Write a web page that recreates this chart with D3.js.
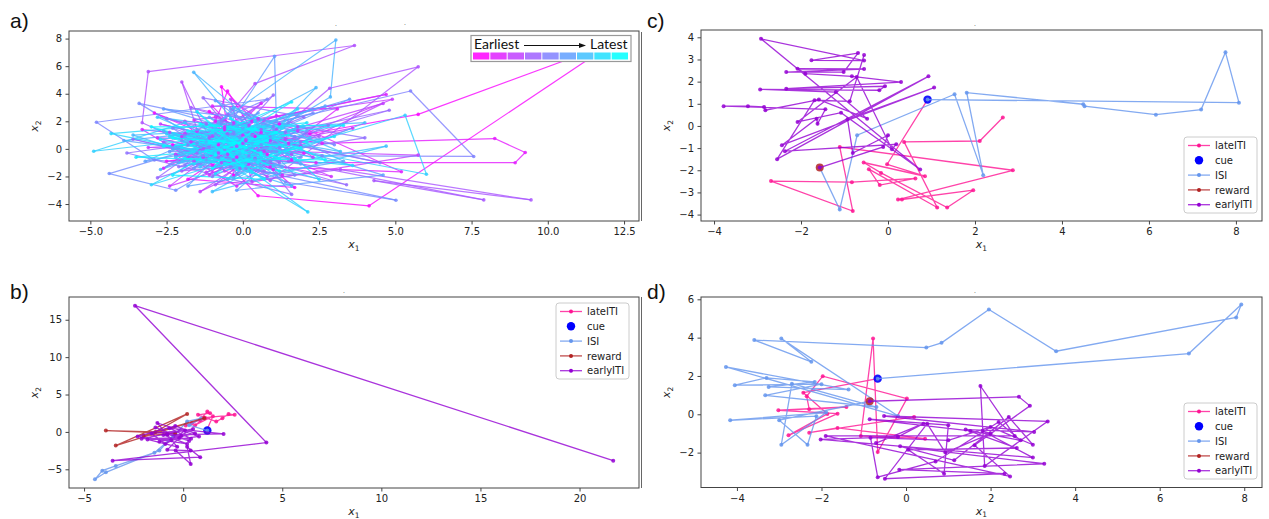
<!DOCTYPE html>
<html><head><meta charset="utf-8">
<script src="https://cdn.jsdelivr.net/npm/d3@7"></script>
<style>body{margin:0;background:#fff}svg{display:block}</style>
</head><body>
<svg id="fig" width="1269" height="519"></svg>
<script>
// ---------------- data ----------------
// a) latent trajectory [x1, x2] in time order (earliest -> latest)
const trajA = [
 [0.4,0.9],[-1.1,2.7],[1.6,-0.8],[-0.7,4.5],[-0.3,-1.9],[-2.3,0.3],[1.2,1.8],[2.2,1.1],[5.75,2.5],[12.14,7.7],
 [4.14,-4.13],[0.5,-3.4],[-1.5,1.3],[-2.9,2.6],[0.8,-0.4],[-0.5,4.2],[-0.9,2.0],[1.7,-2.8],[-1.8,-2.2],[0.1,0.6],
 [-0.8,0.3],[1.0,-1.5],[-1.9,1.1],[0.6,1.2],[-0.2,-0.6],[-2.5,-0.9],[1.5,0.4],[-1.0,-1.2],[0.3,2.0],[-1.4,-0.1],[2.0,-0.3],[-0.6,1.4],
 [2.6,0.4],[8.26,0.75],[9.26,-0.26],[8.93,-1.0],[2.4,-1.0],[-1.3,-0.6],[0.6,3.3],[-2.6,-1.4],[1.1,2.4],[5.2,-1.66],
 [0.9,-1.3],[-1.0,3.1],[3.1,2.9],[-0.2,-2.7],[-3.3,1.4],[1.9,0.2],[-0.6,1.6],[4.7,3.95],[-2.0,0.9],[0.2,-1.1],
 [-1.7,0.5],[0.7,-0.2],[-0.3,1.9],[1.3,-1.9],[-2.2,-0.4],[0.0,1.0],[-1.1,-1.9],[1.8,1.3],[-0.5,-0.4],[-2.8,0.8],[0.9,0.6],[-0.9,2.3],
 [-1.6,2.1],[2.9,-2.0],[-0.8,-0.3],[3.6,1.5],[-2.4,-2.7],[0.5,2.2],[4.9,3.6],[-1.2,-1.7],[1.4,0.7],[-3.1,0.1],
 [5.75,-0.45],[0.3,-2.4],[-0.4,3.6],[2.3,-0.6],[-2.7,1.8],[0.0,0.4],[4.6,3.3],[-1.4,-3.1],[1.8,1.6],[-0.7,-1.0],
 [0.4,-0.7],[-1.6,-0.9],[1.1,1.4],[-0.2,0.2],[-2.4,1.2],[0.8,-2.0],[-1.0,0.9],[1.6,-0.4],[-0.6,-1.6],[-1.9,2.0],[0.2,1.7],[-1.3,0.0],
 [-2.0,4.85],[-1.1,0.8],[0.4,4.73],[3.66,7.5],[-3.1,5.6],[-3.3,1.9],[0.9,-2.3],[5.75,5.95],[2.85,4.4],[-0.9,-2.6],
 [3.2,-1.5],[9.45,-3.7],[4.3,-2.3],[7.9,-3.7],[1.5,-0.9],[-2.2,-0.5],[0.6,1.4],[-1.7,3.0],[2.5,0.9],[-0.3,-0.8],
 [-0.5,1.1],[1.2,-1.0],[-2.0,-1.6],[0.1,0.7],[-1.2,1.8],[1.9,0.5],[-0.8,-0.6],[-2.6,0.5],[0.7,2.1],[-0.1,-1.4],[-1.5,-0.3],[1.4,1.2],
 [4.8,2.8],[-2.8,-2.1],[1.0,3.9],[-0.6,0.0],[3.4,-2.6],[-3.6,0.7],[0.7,-1.6],[-1.3,3.7],[2.0,2.3],[-2.1,-1.3],
 [4.0,0.8],[-0.5,2.5],[1.6,-3.3],[-3.8,-0.3],[2.8,1.7],[-1.0,-2.0],[0.3,1.0],[4.5,-1.0],[-2.5,2.2],[1.2,0.1],
 [0.5,-0.1],[-1.8,0.3],[1.0,1.6],[-0.4,-1.3],[-2.3,1.5],[0.9,-0.9],[-1.1,0.1],[1.7,0.9],[-0.7,2.0],[-1.9,-1.2],[0.2,-0.5],[-0.3,1.2],
 [5.5,4.2],[7.57,-0.55],[2.6,-0.5],[-1.9,1.0],[0.8,3.6],[-4.8,1.93],[-2.9,-0.8],[1.7,-1.9],[-0.4,2.9],[3.0,0.3],
 [-3.4,3.3],[0.1,-1.4],[5.02,-3.72],[1.4,-2.4],[-1.5,0.4],[2.3,2.6],[-4.38,-1.79],[-2.2,-3.0],[0.9,0.9],[-0.7,1.8],
 [-1.3,-0.5],[0.6,0.3],[-0.2,-1.8],[1.5,1.9],[-2.0,0.6],[0.3,-1.1],[-0.9,1.1],[1.9,-0.6],[-1.6,-1.4],[-0.1,0.8],[1.1,-0.2],[-2.4,-0.2],
 [3.5,3.6],[-1.2,-0.8],[1.04,6.71],[1.1,2.0],[-2.6,2.9],[4.6,-1.9],[-0.2,-3.0],[2.1,1.3],[-3.2,-0.9],[0.5,2.6],
 [-1.8,-2.7],[3.3,-0.9],[-0.9,3.5],[1.9,-1.1],[-3.9,0.6],[0.0,1.5],[2.7,3.1],[-2.3,0.0],[1.3,-0.3],[-1.1,2.3],
 [0.2,0.0],[-1.5,1.4],[1.3,-1.3],[-0.6,-0.5],[-2.1,-1.0],[0.8,1.7],[-0.3,-2.1],[1.6,0.6],[-1.2,0.5],[-2.6,1.3],[0.4,-0.8],[-0.8,1.9],
 [3.05,7.9],[2.87,3.77],[0.3,0.4],[-1.61,5.55],[0.8,1.1],[-2.7,-1.5],[2.4,4.44],[-0.5,-2.2],[4.0,1.9],[-3.6,1.0],
 [1.6,-2.7],[-1.3,1.6],[3.2,-0.2],[-0.3,3.0],[-2.0,-0.9],[1.0,-1.2],[4.7,0.2],[-1.0,-3.1],[2.2,0.8],[-2.8,2.3],
 [-0.1,-0.3],[1.4,0.3],[-1.7,1.0],[0.6,-1.4],[-0.9,-0.1],[2.0,1.6],[-2.2,-0.6],[0.1,1.3],[-1.4,-1.3],[1.0,0.9],[-0.5,0.6],[-2.5,1.1],
 [0.6,-0.6],[5.32,2.44],[6.02,-1.84],[-0.6,0.9],[-4.89,-0.17],[-1.9,1.9],[2.13,-4.57],[-0.2,-1.5],[1.8,2.9],[-3.0,-2.6],
 [0.9,0.0],[3.6,-1.2],[-1.4,-0.2],[-4.32,1.11],[0.4,2.0],[2.5,-2.2],[-2.4,0.9],[1.3,1.5],[-0.9,-1.8],[3.0,0.9],
 [1.1,0.2],[-1.0,1.2],[0.3,-1.7],[-2.0,0.1],[1.7,-0.7],[-0.4,1.6],[-1.6,-1.1],[0.7,0.8],[-0.2,-0.3],[2.1,1.9],[-2.7,0.7],[0.5,-1.0],
 [-1.5,2.7],[0.2,-0.9],[-3.5,-0.6],[2.1,0.5],[-0.7,1.3],[1.6,3.4],[-2.3,-1.9],[0.7,-2.2],[-1.1,0.5],[3.3,1.7],
 [-3.0,1.6],[0.0,-0.2],[1.2,-1.6],[-1.9,-0.7],[2.7,-0.8],[-0.4,2.2],[0.8,0.6],[-2.6,0.2],[1.5,1.0],[-0.9,-0.4],
 [-0.3,0.4],[1.2,-0.7],[-1.8,1.3],[0.4,1.5],[-1.0,-1.4],[1.9,0.1],[-2.3,0.8],[0.0,-1.3],[-0.6,0.1],[1.1,1.2],[-1.4,1.8],[0.6,-0.4]
];

// b) one trial, by epoch
const bLateITI = [[0.13,0.85],[0.44,1.16],[0.85,1.6],[1.22,2.72],[1.36,2.5],[0.75,2.28],[1.67,1.38],[1.98,1.83],[2.29,2.4],[2.6,2.28],[1.1,1.9],[0.6,0.9],[1.5,2.1],[1.2,0.3],[1.22,0.18]];
const bCue = [[1.22,0.18]];
const bISI = [[1.22,0.18],[0.3,0.9],[0.9,1.8],[0.2,1.4],[-0.5,-0.6],[-1.45,-2.77],[-3.4,-4.55],[-4.08,-5.18],[-4.45,-6.34],[-3.9,-5.4],[-1.2,-2.5],[-0.4,-0.2]];
const bReward = [[-0.4,-0.2],[-3.9,0.18],[-1.4,0.0],[0.2,2.4],[-3.4,-1.83],[1.06,1.83],[-2.0,-0.5],[-0.8,-0.3]];
const bEarlyITI = [[-0.8,-0.3],[0.3,-1.2],[-1.4,0.6],[-0.2,-0.8],[-2.1,-0.9],[0.5,0.4],[-0.9,-1.6],[-1.6,-0.2],[0.1,0.2],[-0.6,-1.1],[0.8,-0.6],[-1.3,1.2],[-0.3,-2.0],[-1.8,-1.0],[0.4,-0.9],[-0.7,0.5],[2.04,-0.27],[-1.0,-0.4],[0.2,-1.6],[-2.3,-0.6],[-0.4,0.8],[0.6,-0.2],[-1.2,-1.3],[-0.1,-0.5],[-0.8,-2.4],[0.38,-2.5],[-0.38,-2.5],[0.38,-4.29],[0.2,-2.0],[0.86,-3.39],[-3.56,-3.84],[4.2,-1.43],[-2.43,16.88],[21.7,-3.84]];

// c) one trial, by epoch
const cLateITI = [[2.64,0.38],[2.11,-0.68],[0.37,-0.72],[1.13,-3.68],[-0.44,-1.95],[-0.19,-2.67],[0.63,-2.37],[-0.83,-2.54],[-2.69,-2.49],[-0.81,-3.84],[-1.11,-0.95],[2.87,-2.0],[0.23,-3.32],[0.32,-3.32],[1.96,-2.9],[1.36,-3.68],[-0.16,-2.12],[-0.56,-1.65],[0.85,-2.27],[-0.02,-1.73],[0.91,1.19]];
const cCue = [[0.91,1.19]];
const cISI = [[0.91,1.19],[8.07,1.05],[7.76,3.33],[7.2,0.74],[6.16,0.51],[4.52,0.89],[4.49,0.98],[1.81,1.5],[2.19,-2.22],[1.53,1.43],[-0.71,-0.42],[-1.11,-3.77],[-1.57,-1.88]];
const cReward = [[-1.57,-1.88]];
const cEarlyITI = [[-1.57,-1.88],[-0.11,-0.95],[0.0,-0.42],[-0.81,-1.22],[-0.93,0.3],[1.06,1.73],[-2.44,-0.87],[-1.64,0.33],[-1.62,0.1],[-1.44,0.75],[-3.78,0.89],[-3.22,0.89],[-2.85,0.86],[-2.82,0.71],[-1.59,1.19],[-0.48,0.33],[-1.2,1.53],[-2.94,1.65],[-0.2,1.61],[-0.07,1.79],[-2.34,1.68],[0.3,1.98],[-0.83,2.24],[-1.9,2.36],[-2.08,2.58],[-0.55,2.57],[-2.34,2.43],[-1.02,2.43],[-0.69,3.29],[-1.76,2.96],[-0.55,2.95],[-2.92,3.93],[0.74,-1.97],[-1.08,0.6],[-2.08,0.18],[-0.72,2.21],[0.09,-1.05],[0.19,-0.83],[-2.37,-1.14],[0.93,2.24],[-2.55,-1.5],[-1.69,1.16],[-0.88,1.11],[-0.55,3.2]];

// d) one trial, by epoch
const dLateITI = [[0.19,-0.14],[-2.29,-0.96],[-1.62,-0.71],[0.45,-1.27],[-1.07,-1.13],[-0.78,3.95],[-0.67,-1.97],[0.02,0.82],[-1.97,1.99],[-2.35,0.94],[-2.29,0.26],[-1.41,0.38],[-3.02,0.21],[-1.62,0.03],[-2.78,-1.1],[-1.86,0.02],[-2.43,1.13],[-0.67,1.86]];
const dCue = [[-0.67,1.86]];
const dISI = [[-0.67,1.86],[6.69,3.17],[7.93,5.73],[7.81,5.05],[3.55,3.29],[1.96,5.47],[0.84,3.73],[0.48,3.48],[-3.59,3.87],[-2.24,2.74],[-2.95,3.95],[-0.19,-0.09],[-4.26,2.47],[-1.36,1.29],[-3.25,1.43],[-2.16,1.69],[-3.3,1.9],[-4.05,1.52],[-2.0,1.57],[-3.33,0.99],[-0.7,0.38],[-2.7,1.6],[-2.95,-1.59],[-1.89,0.09],[-4.16,-0.31],[-2.12,-0.1],[-2.33,-1.59],[-3.0,-0.31],[-0.86,0.68]];
const dReward = [[-0.86,0.68]];
const dEarlyITI = [[-0.86,0.68],[2.67,0.91],[2.93,0.44],[1.62,-1.62],[2.46,-3.24],[-1.9,-1.13],[2.57,-1.13],[1.76,1.48],[1.86,-2.7],[3.35,-0.37],[-0.52,-0.09],[3.03,-0.92],[1.41,-0.8],[2.62,-1.76],[0.05,-1.85],[0.9,-3.1],[1.0,-0.57],[-0.86,-0.26],[1.52,-0.87],[2.71,-1.36],[2.19,-0.4],[0.7,-2.46],[-0.67,-3.28],[-0.84,-1.22],[1.0,-1.36],[2.0,-0.66],[3.0,-1.59],[2.43,-0.14],[1.14,-2.4],[-0.14,-1.67],[3.27,-2.58],[-0.16,-2.89],[2.33,-3.1],[-0.5,-3.36],[0.5,-0.49],[0.93,-2.0],[2.0,-1.01],[1.81,-0.87],[3.0,-2.26],[-2.02,-1.31],[-0.19,-1.18],[0.41,-0.49],[-0.71,-1.5]];

// tick values
const aXTicks = [-5,-2.5,0,2.5,5,7.5,10,12.5];
const aYTicks = [-4,-2,0,2,4,6,8];
const bXTicks = [-5,0,5,10,15,20];
const bYTicks = [-5,0,5,10,15];
const cXTicks = [-4,-2,0,2,4,6,8];
const cYTicks = [-4,-3,-2,-1,0,1,2,3,4];
const dXTicks = [-4,-2,0,2,4,6,8];
const dYTicks = [-2,0,2,4,6];

const epochNames = ["lateITI","cue","ISI","reward","earlyITI"];
const epochColors = ["#ff1493","#0000ff","#6495ed","#b22222","#9400d3"];

// ---------------- drawing ----------------
const svg = d3.select("#fig");
const TICK_FONT = "DejaVu Sans, sans-serif";

const panels = [
  {id:"a", box:[69,639,31,221], xd:[-5.70,12.99], yd:[-5.23,8.55], xt:aXTicks, yt:aYTicks, xf:d3.format(".1f"), lab:[10,28], speck:[[336,26],[405,25]]},
  {id:"b", box:[69,639,297,488], xd:[-5.76,23.0], yd:[-7.5,18.04], xt:bXTicks, yt:bYTicks, xf:d3.format("d"), lab:[10,299], speck:[[344,293]],
   series:[bLateITI,bCue,bISI,bReward,bEarlyITI], rewardR:2, legend:{x:556,y:303}},
  {id:"c", box:[701,1262,30,221], xd:[-4.30,8.60], yd:[-4.29,4.33], xt:cXTicks, yt:cYTicks, xf:d3.format("d"), lab:[647,28], speck:[[975,26]],
   series:[cLateITI,cCue,cISI,cReward,cEarlyITI], rewardR:4, legend:{x:1184,y:137}},
  {id:"d", box:[701,1262,297,487.5], xd:[-4.85,8.42], yd:[-3.82,6.12], xt:dXTicks, yt:dYTicks, xf:d3.format("d"), lab:[647,299], speck:[[975,293]],
   series:[dLateITI,dCue,dISI,dReward,dEarlyITI], rewardR:4, legend:{x:1184,y:403}}
];

// thin separators at the left of the right-hand panels
svg.append("line").attr("x1",641.5).attr("x2",641.5).attr("y1",32).attr("y2",221).attr("stroke","#666").attr("stroke-width",1);
svg.append("line").attr("x1",641.5).attr("x2",641.5).attr("y1",297).attr("y2",488).attr("stroke","#666").attr("stroke-width",1);

const coolRev = d3.interpolateRgb("#ff00ff","#00ffff");

panels.forEach(p => {
  const [L,R,T,B] = p.box;
  const x = d3.scaleLinear().domain(p.xd).range([L,R]);
  const y = d3.scaleLinear().domain(p.yd).range([B,T]);
  const g = svg.append("g");

  g.append("defs").append("clipPath").attr("id","clip-"+p.id)
    .append("rect").attr("x",L).attr("y",T).attr("width",R-L).attr("height",B-T);
  const plot = g.append("g").attr("clip-path",`url(#clip-${p.id})`);

  if (p.id === "a") {
    const n = trajA.length;
    const segs = d3.pairs(trajA).map((pr,i)=>({p0:pr[0],p1:pr[1],c:coolRev(i/(n-2))}));
    plot.selectAll("line.seg").data(segs).join("line").attr("class","seg")
      .attr("x1",d=>x(d.p0[0])).attr("y1",d=>y(d.p0[1]))
      .attr("x2",d=>x(d.p1[0])).attr("y2",d=>y(d.p1[1]))
      .attr("stroke",d=>d.c).attr("stroke-width",1.2).attr("stroke-opacity",0.8);
    plot.selectAll("circle").data(trajA).join("circle")
      .attr("cx",d=>x(d[0])).attr("cy",d=>y(d[1])).attr("r",1.8)
      .attr("fill",(d,i)=>coolRev(i/(n-1))).attr("fill-opacity",0.85);
  } else {
    p.series.forEach((pts,k) => {
      const col = epochColors[k];
      if (k === 1) {
        plot.selectAll(null).data(pts).join("circle")
          .attr("cx",d=>x(d[0])).attr("cy",d=>y(d[1])).attr("r",4.2)
          .attr("fill",col).attr("fill-opacity",0.9);
        return;
      }
      plot.append("path").datum(pts)
        .attr("d", d3.line().x(d=>x(d[0])).y(d=>y(d[1])))
        .attr("fill","none").attr("stroke",col).attr("stroke-width",1.3).attr("stroke-opacity",0.8);
      plot.selectAll(null).data(pts).join("circle")
        .attr("cx",d=>x(d[0])).attr("cy",d=>y(d[1]))
        .attr("r", k===3 ? p.rewardR : 2)
        .attr("fill",col).attr("fill-opacity",0.85);
    });
  }

  // axes
  const xa = d3.axisBottom(x).tickValues(p.xt).tickFormat(p.xf).tickSize(3.5).tickPadding(3.5);
  const ya = d3.axisLeft(y).tickValues(p.yt).tickFormat(d3.format("d")).tickSize(3.5).tickPadding(3.5);
  const gx = g.append("g").attr("transform",`translate(0,${B})`).call(xa);
  const gy = g.append("g").attr("transform",`translate(${L},0)`).call(ya);
  [gx,gy].forEach(ax => {
    ax.select(".domain").remove();
    ax.selectAll("line").attr("stroke","#444");
    ax.selectAll("text").attr("fill","#222").style("font-family",TICK_FONT).style("font-size","10px");
  });
  g.append("rect").attr("x",L).attr("y",T).attr("width",R-L).attr("height",B-T)
    .attr("fill","none").attr("stroke","#444").attr("stroke-width",1);

  // axis labels
  const xl = g.append("text").attr("x",(L+R)/2).attr("y",B+27).attr("text-anchor","middle")
    .style("font-family",TICK_FONT).style("font-size","11px").attr("fill","#222");
  xl.append("tspan").style("font-style","italic").text("x");
  xl.append("tspan").style("font-size","7.5px").attr("dy",2.5).text("1");
  const yl = g.append("text").attr("transform",`translate(${L-31},${(T+B)/2}) rotate(-90)`).attr("text-anchor","middle")
    .style("font-family",TICK_FONT).style("font-size","11px").attr("fill","#222");
  yl.append("tspan").style("font-style","italic").text("x");
  yl.append("tspan").style("font-size","7.5px").attr("dy",2.5).text("2");

  // panel letter
  g.append("text").attr("x",p.lab[0]).attr("y",p.lab[1]).text(p.id+")")
    .style("font-family","Liberation Sans, Arial, sans-serif").style("font-size","21px").attr("fill","#111");

  // residual title marks
  p.speck.forEach(s => g.append("text").attr("x",s[0]).attr("y",s[1]).attr("text-anchor","middle")
    .style("font-family",TICK_FONT).style("font-size","6px").attr("fill","#333").text("."));

  // legends
  if (p.id === "a") {
    const lg = g.append("g");
    lg.append("rect").attr("x",471).attr("y",35.5).attr("width",160).attr("height",26)
      .attr("fill","#fff").attr("stroke","#999").attr("stroke-width",1.2);
    lg.append("text").attr("x",474).attr("y",48.5).text("Earliest")
      .style("font-family","Lato, sans-serif").style("font-size","14px").attr("fill","#111");
    lg.append("text").attr("x",627.5).attr("y",48.5).attr("text-anchor","end").text("Latest")
      .style("font-family","Lato, sans-serif").style("font-size","14px").attr("fill","#111");
    lg.append("line").attr("x1",524).attr("x2",580).attr("y1",45.5).attr("y2",45.5).attr("stroke","#111").attr("stroke-width",1.2);
    lg.append("path").attr("d","M586,45.5 L579,43 L579,48 Z").attr("fill","#111");
    const nb = 9, bx0 = 473, bw = (629-473)/nb;
    d3.range(nb).forEach(i => lg.append("rect").attr("x",bx0+i*bw).attr("y",52.5).attr("width",bw-1).attr("height",7)
      .attr("fill",coolRev(i/(nb-1))).attr("fill-opacity",0.85));
  } else {
    const lx = p.legend.x, ly = p.legend.y;
    const lg = g.append("g");
    lg.append("rect").attr("x",lx).attr("y",ly).attr("width",73).attr("height",76).attr("rx",3)
      .attr("fill","#fff").attr("fill-opacity",0.85).attr("stroke","#ccc").attr("stroke-width",1);
    epochNames.forEach((nm,k) => {
      const yy = ly + 8.5 + 14.8*k;
      if (k !== 1) {
        lg.append("line").attr("x1",lx+4).attr("x2",lx+26).attr("y1",yy).attr("y2",yy)
          .attr("stroke",epochColors[k]).attr("stroke-width",1.3).attr("stroke-opacity",0.8);
        lg.append("circle").attr("cx",lx+15).attr("cy",yy).attr("r",2).attr("fill",epochColors[k]);
      } else {
        lg.append("circle").attr("cx",lx+15).attr("cy",yy).attr("r",4.2).attr("fill",epochColors[k]);
      }
      lg.append("text").attr("x",lx+31).attr("y",yy+3.6).text(nm)
        .style("font-family",TICK_FONT).style("font-size","10px").attr("fill","#222");
    });
  }
});
</script>
</body></html>
